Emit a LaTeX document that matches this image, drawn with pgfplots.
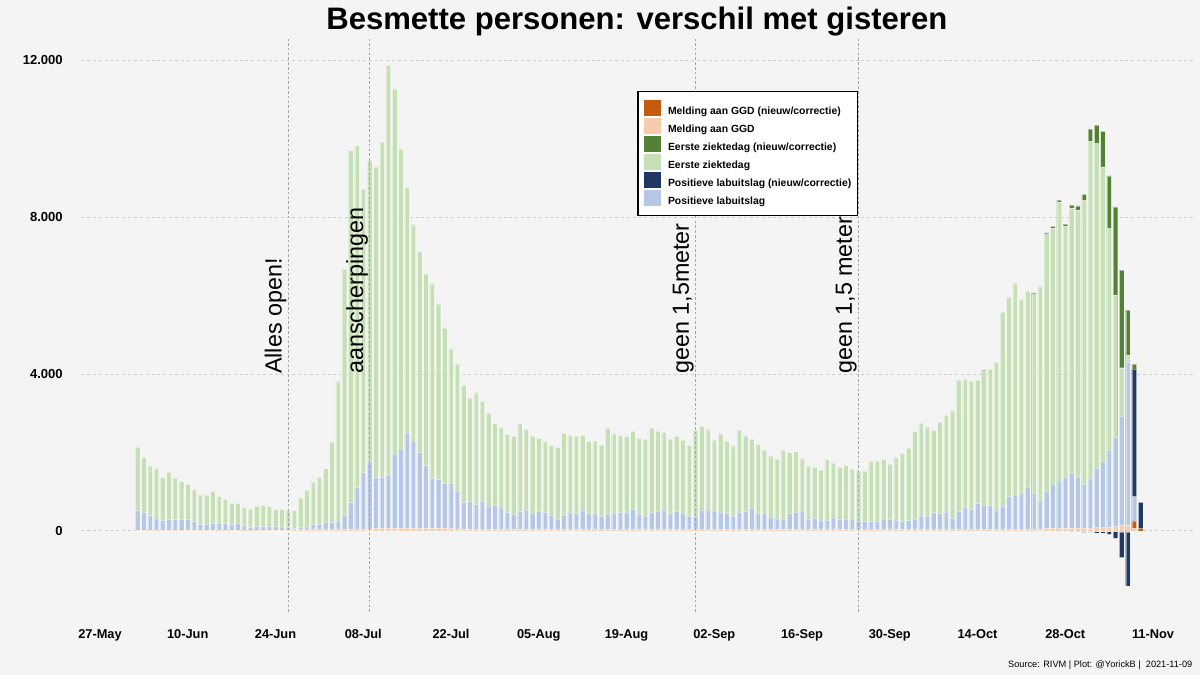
\documentclass[border=0pt]{standalone}
\usepackage{pgfplots}
\pgfplotsset{compat=1.18}
\usepackage{pgfplotstable}
\usepackage{fontspec}
\setmainfont{Liberation Sans}
\definecolor{bgcol}{RGB}{244,244,244}
\definecolor{orDark}{RGB}{197,90,17}
\definecolor{orLight}{RGB}{248,203,173}
\definecolor{grDark}{RGB}{84,130,53}
\definecolor{grLight}{RGB}{197,224,180}
\definecolor{blDark}{RGB}{32,56,100}
\definecolor{blLight}{RGB}{180,199,231}
\definecolor{gridcol}{RGB}{205,205,205}
\definecolor{vlinecol}{RGB}{160,168,168}

% day index counted from 27 May 2021; gl = eerste ziektedag, bl = positieve labuitslag, ol = melding aan GGD
\pgfplotstableread{
d gl bl ol
6 2145 528 30
7 1872 477 30
8 1660 400 30
9 1591 332 30
10 1362 264 30
11 1498 289 30
12 1353 289 30
13 1259 289 30
14 1191 289 30
15 1055 238 30
16 919 170 30
17 919 170 30
18 1013 187 30
19 885 196 30
20 808 187 30
21 706 170 30
22 706 187 30
23 604 136 30
24 553 85 30
25 630 110 30
26 655 119 30
27 630 128 30
28 553 119 30
29 553 102 30
30 528 94 30
31 528 68 35
32 842 85 35
33 1038 102 35
34 1251 170 35
35 1362 170 35
36 1591 221 35
37 2272 230 35
38 3804 247 55
39 6680 400 55
40 9693 723 55
41 9821 1106 55
42 8714 1489 55
43 9438 1762 55
44 9276 1379 70
45 9906 1362 70
46 11863 1421 70
47 11267 1957 70
48 9735 2093 70
49 8757 2510 70
50 7804 2289 70
51 7114 2000 70
52 6553 1668 70
53 6297 1345 70
54 5787 1311 70
55 5174 1208 70
56 4638 1208 70
57 4255 1013 55
58 3719 723 55
59 3395 749 55
60 3523 681 55
61 3303 764 50
62 2997 637 50
63 2734 662 50
64 2632 586 50
65 2462 467 50
66 2420 433 50
67 2734 492 50
68 2598 535 50
69 2411 450 50
70 2360 509 50
71 2284 484 50
72 2182 408 50
73 2131 306 50
74 2496 408 50
75 2437 484 50
76 2420 450 50
77 2437 535 50
78 2292 450 50
79 2292 450 50
80 2190 382 50
81 2623 433 50
82 2479 458 50
83 2445 484 50
84 2403 484 50
85 2547 560 50
86 2360 433 50
87 2335 382 50
88 2623 484 50
89 2547 509 50
90 2513 535 50
91 2343 458 45
92 2411 509 45
93 2318 458 45
94 2190 382 45
95 2572 365 45
96 2674 535 45
97 2581 535 45
98 2318 509 45
99 2479 484 45
100 2292 450 45
101 2173 382 45
102 2572 484 45
103 2428 509 45
104 2343 586 45
105 2207 458 45
106 2063 458 45
107 1910 357 45
108 1834 306 45
109 2063 306 45
110 2004 458 45
111 2021 484 45
112 1842 509 45
113 1656 306 45
114 1622 331 45
115 1554 280 45
116 1825 280 45
117 1732 357 45
118 1630 306 45
119 1673 306 45
120 1579 306 45
121 1528 255 40
122 1528 255 40
123 1774 238 40
124 1783 255 40
125 1825 306 40
126 1706 306 40
127 1876 280 40
128 1987 238 40
129 2114 263 40
130 2538 306 40
131 2751 408 40
132 2649 382 40
133 2564 467 40
134 2776 441 40
135 2955 484 40
136 3065 331 40
137 3846 509 40
138 3863 611 40
139 3820 560 40
140 3846 696 40
141 4080 662 45
142 4126 645 45
143 4304 535 45
144 5578 637 45
145 5968 874 45
146 6317 917 45
147 5901 968 45
148 6113 1121 45
149 6030 968 45
150 6232 764 45
151 7556 1019 70
152 7720 1197 70
153 8388 1274 70
154 7768 1375 70
155 8235 1477 70
156 8176 1375 70
157 8431 1197 70
158 9933 1350 70
159 9874 1605 85
160 9280 1783 85
161 7709 2063 100
162 6011 2394 120
163 4160 2929 150
164 4483 4313 160
165 nan 874 68
}\daily

% totals including the new/corrected part
\pgfplotstableread{
d gt
141 4101
149 6070
151 7599
152 7760
153 8431
154 7819
155 8303
156 8286
157 8575
158 10239
159 10341
160 10180
161 9050
162 8261
163 6648
164 5630
165 4253
}\newgreen

\pgfplotstableread{
d bt
155 -20
156 -20
157 -35
158 -30
159 -50
160 -55
161 -85
162 -187
163 -679
164 -1401
165 4126
166 730
}\newblue

\pgfplotstableread{
d ot
163 -20
164 -30
165 255
166 68
}\neworange

\pgfplotsset{
  mybar/.style={ybar, bar shift=0pt, bar width=0.72, fill=#1, draw=white, draw opacity=0.45, line width=0.3pt, forget plot},
}
\tikzset{
  vline/.style={vlinecol, line width=0.75pt, dash pattern=on 2pt off 1.6pt},
  lab/.style={rotate=90, anchor=base west, inner sep=0pt, font=\fontsize{17.5}{20}\selectfont},
}

\begin{document}
\begin{tikzpicture}
\fill[bgcol] (-60.9pt,-47.25pt) rectangle (839.1pt,459pt);
\begin{axis}[
  at={(0pt,0pt)}, anchor=south west,
  scale only axis, width=833.5pt, height=429.45pt,
  xmin=-3, xmax=174.3, ymin=-2064, ymax=12526,
  clip=false,
  unbounded coords=discard,
  scaled y ticks=false,
  axis line style={draw=none},
  tick style={draw=none}, major tick length=0pt,
  xtick={0,14,...,168},
  xticklabels={27-May,10-Jun,24-Jun,08-Jul,22-Jul,05-Aug,19-Aug,02-Sep,16-Sep,30-Sep,14-Oct,28-Oct,11-Nov},
  ytick={0,4000,8000,12000},
  yticklabels={0,4.000,8.000,12.000},
  ymajorgrids,
  major grid style={gridcol, line width=0.75pt, dash pattern=on 2.2pt off 2.2pt},
  xticklabel style={font=\bfseries\fontsize{9.6}{11}\selectfont, anchor=base, inner sep=0pt, yshift=-19.9pt},
  yticklabel style={font=\bfseries\fontsize{9.8}{11}\selectfont, anchor=east, inner sep=0pt, xshift=-13.65pt},
  legend image code/.code={\fill[#1, draw=none] (0pt,-3.2pt) rectangle (12.75pt,8.8pt);},
  legend style={at={(0.5004,0.9099)}, anchor=north west, draw=black, line width=0.9pt, fill=white,
    font=\bfseries\fontsize{7.8}{9}\selectfont, inner xsep=4.6pt, inner ysep=6.5pt, row sep=1.15pt,
    nodes={inner sep=0pt},
    /tikz/every odd column/.append style={column sep=5.25pt}},
  legend cell align=left,
]
\addlegendimage{fill=orDark}\addlegendentry{Melding aan GGD (nieuw/correctie)}
\addlegendimage{fill=orLight}\addlegendentry{Melding aan GGD}
\addlegendimage{fill=grDark}\addlegendentry{Eerste ziektedag (nieuw/correctie)}
\addlegendimage{fill=grLight}\addlegendentry{Eerste ziektedag}
\addlegendimage{fill=blDark}\addlegendentry{Positieve labuitslag (nieuw/correctie)}
\addlegendimage{fill=blLight}\addlegendentry{Positieve labuitslag}

\addplot[mybar=grDark] table[x=d,y=gt]{\newgreen};
\addplot[mybar=grLight] table[x=d,y=gl]{\daily};
\addplot[mybar=blDark] table[x=d,y=bt]{\newblue};
\addplot[mybar=blLight] table[x=d,y=bl]{\daily};
\addplot[mybar=orDark] table[x=d,y=ot]{\neworange};
\addplot[mybar=orLight] table[x=d,y=ol]{\daily};

\draw[vline] (axis cs:30,-2064) -- (axis cs:30,12526);
\draw[vline] (axis cs:43,-2064) -- (axis cs:43,12526);
\draw[vline] (axis cs:95,-2064) -- (axis cs:95,12526);
\draw[vline] (axis cs:121,-2064) -- (axis cs:121,12526);
\node[lab] at ([xshift=-4.9pt]axis cs:30,4000) {Alles open!};
\node[lab] at ([xshift=-4.9pt]axis cs:43,4000) {aanscherpingen};
\node[lab] at ([xshift=-4.9pt]axis cs:95,4000) {geen 1,5meter};
\node[lab] at ([xshift=-4.9pt]axis cs:121,4000) {geen 1,5 meter};

\node[anchor=base, inner sep=0pt, font=\bfseries\fontsize{23.3}{28}\selectfont] at ([yshift=7.4pt]rel axis cs:0.5,1) {Besmette personen: verschil met gisteren};
\node[anchor=base east, inner sep=0pt, font=\fontsize{6.9}{8}\selectfont] at ([yshift=-41.25pt]rel axis cs:1,0) {Source: RIVM | Plot: @YorickB | \ 2021-11-09};
\end{axis}
\pgfresetboundingbox
\path (-60.9pt,-47.25pt) rectangle (839.1pt,459pt);
\end{tikzpicture}
\end{document}
